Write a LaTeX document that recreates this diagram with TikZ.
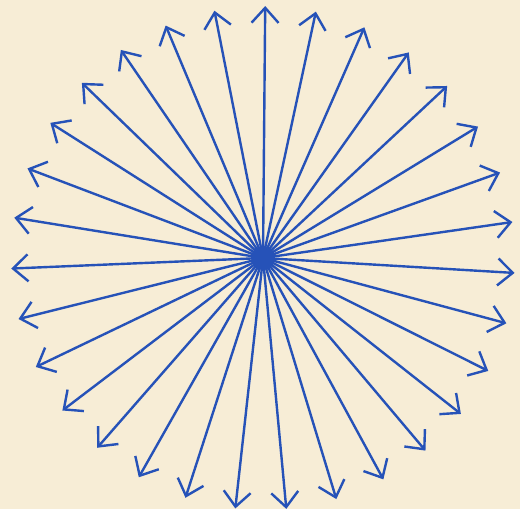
\documentclass[tikz,border=0pt]{standalone}
\usepackage{tikz}
\usetikzlibrary{arrows.meta, calc}
\definecolor{paper}{RGB}{247,237,214}
\definecolor{ink}{RGB}{38,82,184}

\begin{document}
\begin{tikzpicture}[
    x=1pt, y=1pt,
    ray/.style={draw=ink, line width=2.4pt,
                -{Straight Barb[length=15pt, width=27pt, line width=2.4pt]}},
    hub/.style={circle, fill=ink, inner sep=0pt, minimum size=24pt}
]
\fill[paper] (0,0) rectangle (520,509);
\useasboundingbox (0,0) rectangle (520,509);
\node[hub] (hub) at (263,251) {};
% 31 rays, evenly spaced
\foreach \i in {0,...,30}{
  \coordinate (tip\i) at ($(263,251)+({89.5-\i*360/31}:252)$);
  \draw[ray] (hub.center) -- (tip\i);
}
\end{tikzpicture}
\end{document}
